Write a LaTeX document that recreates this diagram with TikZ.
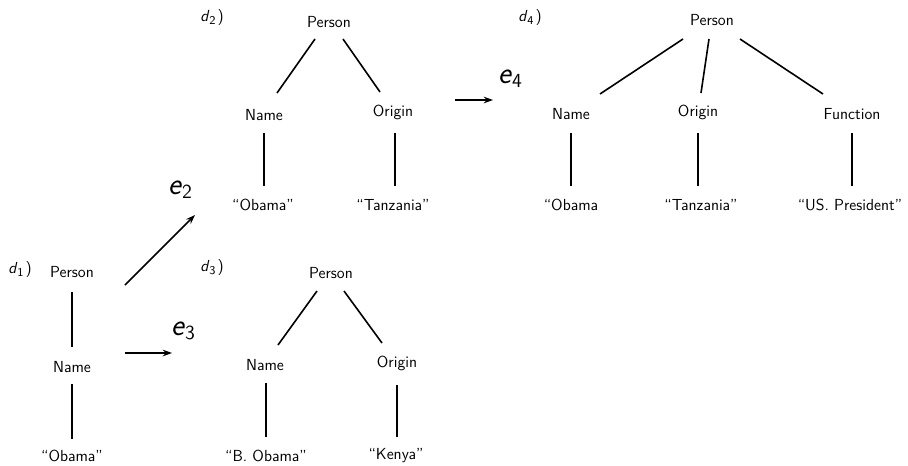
\documentclass[tikz,border=0pt]{standalone}
\usepackage{fontspec}
\usetikzlibrary{calc,arrows.meta}
\newcommand{\dlab}[1]{\textsl{d}{\fontsize{9}{9}\selectfont\raisebox{-2pt}{#1}}\hspace{1.5pt})}
\newcommand{\elab}[1]{\textsl{e}{\fontsize{15}{15}\selectfont\raisebox{-3pt}{#1}}}
\begin{document}
\begin{tikzpicture}[x=0.75pt,y=-0.75pt,
  lbl/.style={font=\sffamily\fontsize{12}{14}\selectfont, inner sep=1pt},
  tag/.style={font=\sffamily\fontsize{12}{13}\selectfont, inner sep=0pt},
  elabel/.style={font=\sffamily\fontsize{23}{26}\selectfont, inner sep=0pt},
  edge/.style={line width=1.2pt},
  arr/.style={line width=1.1pt, -{Stealth[length=7pt,width=5pt]}}]
\useasboundingbox (0,0) rectangle (908,465);
% d1
\node[tag] (t1) at (20,270) {\dlab{1}};
\node[lbl] (P1) at (72,272) {Person};
\node[lbl] (N1) at (72,367) {Name};
\node[lbl] (V1) at (72,456) {“Obama”};
\draw[edge] ($(P1)+(0,20)$) -- ($(N1)+(0,-20)$);
\draw[edge] ($(N1)+(0,17)$) -- ($(V1)+(0,-17)$);
% arrows
\node[elabel] (e2) at (180,190) {\elab{2}};
\node[elabel] (e3) at (183,331) {\elab{3}};
\node[elabel] (e4) at (510,79) {\elab{4}};
\coordinate (a2) at (195,215);
\coordinate (a3) at (172,353);
\coordinate (a4s) at (455,100);
\coordinate (a4) at (493,100);
\draw[arr] ($(P1)+(53,13)$) -- (a2);
\draw[arr] ($(N1)+(53,-14)$) -- (a3);
\draw[arr] (a4s) -- (a4);
% d2
\node[tag] (t2) at (212,18) {\dlab{2}};
\node[lbl] (P2) at (329,22) {Person};
\node[lbl] (N2) at (264,115) {Name};
\node[lbl] (O2) at (393,112) {Origin};
\node[lbl] (V2a) at (263,205) {“Obama”};
\node[lbl] (V2b) at (393,205) {“Tanzania”};
\draw[edge] ($(P2)+(-14,17)$) -- ($(N2)+(13,-22)$);
\draw[edge] ($(P2)+(14,17)$) -- ($(O2)+(-13,-20)$);
\draw[edge] ($(N2)+(0,18)$) -- ($(V2a)+(1,-19)$);
\draw[edge] ($(O2)+(2,21)$) -- ($(V2b)+(2,-19)$);
% d3
\node[tag] (t3) at (212,268) {\dlab{3}};
\node[lbl] (P3) at (331,273) {Person};
\node[lbl] (N3) at (265,365) {Name};
\node[lbl] (O3) at (397,363) {Origin};
\node[lbl] (V3a) at (266,456) {“B. Obama”};
\node[lbl] (V3b) at (396,456) {“Kenya”};
\draw[edge] ($(P3)+(-14,18)$) -- ($(N3)+(13,-20)$);
\draw[edge] ($(P3)+(13,18)$) -- ($(O3)+(-15,-20)$);
\draw[edge] ($(N3)+(1,18)$) -- ($(V3a)+(0,-19)$);
\draw[edge] ($(O3)+(0,22)$) -- ($(V3b)+(1,-19)$);
% d4
\node[tag] (t4) at (530,18) {\dlab{4}};
\node[lbl] (P4) at (712,20) {Person};
\node[lbl] (N4) at (571,114) {Name};
\node[lbl] (O4) at (698,112) {Origin};
\node[lbl] (F4) at (852,114) {Function};
\node[lbl] (V4a) at (571,205) {“Obama};
\node[lbl] (V4b) at (701,205) {“Tanzania”};
\node[lbl] (V4c) at (850,205) {“US. President”};
\draw[edge] ($(P4)+(-29,19)$) -- ($(N4)+(29,-20)$);
\draw[edge] ($(P4)+(-3,19)$) -- ($(O4)+(3,-19)$);
\draw[edge] ($(P4)+(28,19)$) -- ($(F4)+(-29,-20)$);
\draw[edge] ($(N4)+(0,19)$) -- ($(V4a)+(0,-19)$);
\draw[edge] ($(O4)+(0,21)$) -- ($(V4b)+(-3,-19)$);
\draw[edge] ($(F4)+(0,19)$) -- ($(V4c)+(2,-19)$);
\end{tikzpicture}
\end{document}
